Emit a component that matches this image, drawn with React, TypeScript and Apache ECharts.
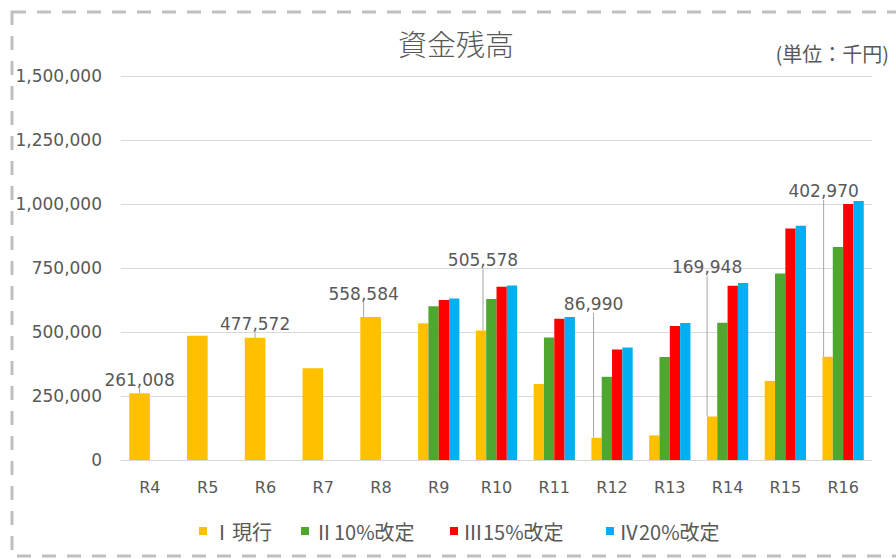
import React, { useEffect, useRef } from "react";
import * as echarts from "echarts";

const categories = ["R4", "R5", "R6", "R7", "R8", "R9", "R10", "R11", "R12", "R13", "R14", "R15", "R16"];
// Ⅰ現行 (R4–R8 drawn wide, R9–R16 in group)
const currentEarly = [261008, 485000, 477572, 358000, 558584, null, null, null, null, null, null, null, null];
const currentLater = [null, null, null, null, null, 534000, 505578, 297000, 86990, 96000, 169948, 309000, 402970];
const rev10 = [null, null, null, null, null, 601000, 629000, 479000, 325000, 402000, 536000, 729000, 832000];
const rev15 = [null, null, null, null, null, 625000, 677000, 552000, 432000, 523000, 681000, 904000, 1000000];
const rev20 = [null, null, null, null, null, 631000, 682000, 559000, 439000, 535000, 691000, 915000, 1012000];
const labeledCategories = ["R4", "R6", "R8", "R10", "R12", "R14", "R16"];
const yTicks = [0, 250000, 500000, 750000, 1000000, 1250000, 1500000];
const seriesNames = ["Ⅰ現行", "Ⅱ10%改定", "Ⅲ15%改定", "Ⅳ20%改定"];

// label shifts (layout only)
const labelShift: Record<string, { dx: number; dy: number }> = {
  R8: { dx: -7, dy: -10 },
  R10: { dx: 2, dy: -57 },
  R12: { dx: -3, dy: -120 },
  R14: { dx: -5, dy: -136 },
  R16: { dx: -4, dy: -152 },
};

const COLORS = ["#FFC000", "#4EA72E", "#FF0000", "#00B0F0"];
const TEXT = "#595959";
const NUMFONT = "DejaVu Sans";
const JPFONT = "Noto Sans CJK JP";

function withLabels(arr: (number | null)[]) {
  return arr.map((v, i) =>
    v != null && labeledCategories.includes(categories[i])
      ? { value: v, label: { show: true } }
      : v
  );
}

const fmt = (v: number) => v.toLocaleString("en-US");

export default function App() {
  const ref = useRef<HTMLDivElement>(null);
  useEffect(() => {
    if (!ref.current) return;
    const chart = echarts.init(ref.current, undefined, { renderer: "svg" });
    const labelCfg = {
      show: false,
      position: "top",
      distance: 5,
      color: TEXT,
      fontFamily: NUMFONT,
      fontSize: 17,
      formatter: (p: any) => fmt(p.value),
    };
    const labelLayout = (p: any) => {
      const s = labelShift[categories[p.dataIndex]];
      return s ? { dx: s.dx, dy: s.dy } : {};
    };
    const labelLine = { show: true, lineStyle: { color: "#a6a6a6", width: 1 } };
    const legendLefts = [199, 301, 450, 606];
    chart.setOption({
      animation: false,
      backgroundColor: "#ffffff",
      title: [
        {
          text: "資金残高",
          left: 398,
          top: 28,
          padding: 0,
          textStyle: { fontFamily: JPFONT, fontSize: 29, fontWeight: 300, color: TEXT },
        },
        {
          text: "(単位：千円)",
          right: 7,
          top: 43,
          padding: 0,
          textStyle: { fontFamily: JPFONT, fontSize: 20, fontWeight: "normal", color: TEXT },
        },
      ],
      legend: seriesNames.map((n, i) => ({
        data: [n],
        left: legendLefts[i],
        top: 521,
        padding: 0,
        itemWidth: 8,
        itemHeight: 8,
        icon: "rect",
        itemGap: 0,
        textStyle: { fontFamily: JPFONT, fontSize: 20, color: TEXT },
      })),
      graphic: [
        {
          type: "rect",
          shape: { x: 12, y: 12, width: 900, height: 544 },
          style: { fill: "none", stroke: "#bfbfbf", lineWidth: 3, lineDash: [14, 11] },
          silent: true,
        },
      ],
      grid: { left: 121, right: 24, top: 76, bottom: 99, containLabel: false },
      xAxis: [
        {
          type: "category",
          data: categories,
          axisLine: { lineStyle: { color: "#d9d9d9" } },
          axisTick: { show: false },
          axisLabel: { color: TEXT, fontFamily: NUMFONT, fontSize: 16, margin: 19 },
        },
        { type: "category", data: categories, show: false, gridIndex: 0 },
      ],
      yAxis: {
        type: "value",
        min: yTicks[0],
        max: yTicks[yTicks.length - 1],
        interval: yTicks[1] - yTicks[0],
        axisLine: { show: false },
        axisTick: { show: false },
        splitLine: { lineStyle: { color: "#d9d9d9", width: 1 } },
        axisLabel: {
          color: TEXT,
          fontFamily: NUMFONT,
          fontSize: 17,
          margin: 19,
          formatter: (v: number) => fmt(v),
        },
      },
      series: [
        {
          name: seriesNames[0],
          type: "bar",
          xAxisIndex: 0,
          data: withLabels(currentLater),
          itemStyle: { color: COLORS[0] },
          barGap: "0%",
          barCategoryGap: "28.5%",
          label: labelCfg,
          labelLayout,
          labelLine,
        },
        { name: seriesNames[1], type: "bar", xAxisIndex: 0, data: rev10, itemStyle: { color: COLORS[1] } },
        { name: seriesNames[2], type: "bar", xAxisIndex: 0, data: rev15, itemStyle: { color: COLORS[2] } },
        { name: seriesNames[3], type: "bar", xAxisIndex: 0, data: rev20, itemStyle: { color: COLORS[3] } },
        {
          name: seriesNames[0],
          type: "bar",
          xAxisIndex: 1,
          data: withLabels(currentEarly),
          itemStyle: { color: COLORS[0] },
          barGap: "0%",
          barCategoryGap: "28.5%",
          label: labelCfg,
          labelLayout,
          labelLine,
        },
        {
          name: "_spacer",
          type: "bar",
          xAxisIndex: 1,
          data: categories.map(() => null),
          itemStyle: { color: "transparent" },
        },
      ],
    });
    return () => chart.dispose();
  }, []);
  return (
    <div
      ref={ref}
      style={{ position: "fixed", left: 0, top: 0, width: 896, height: 559 }}
    />
  );
}
